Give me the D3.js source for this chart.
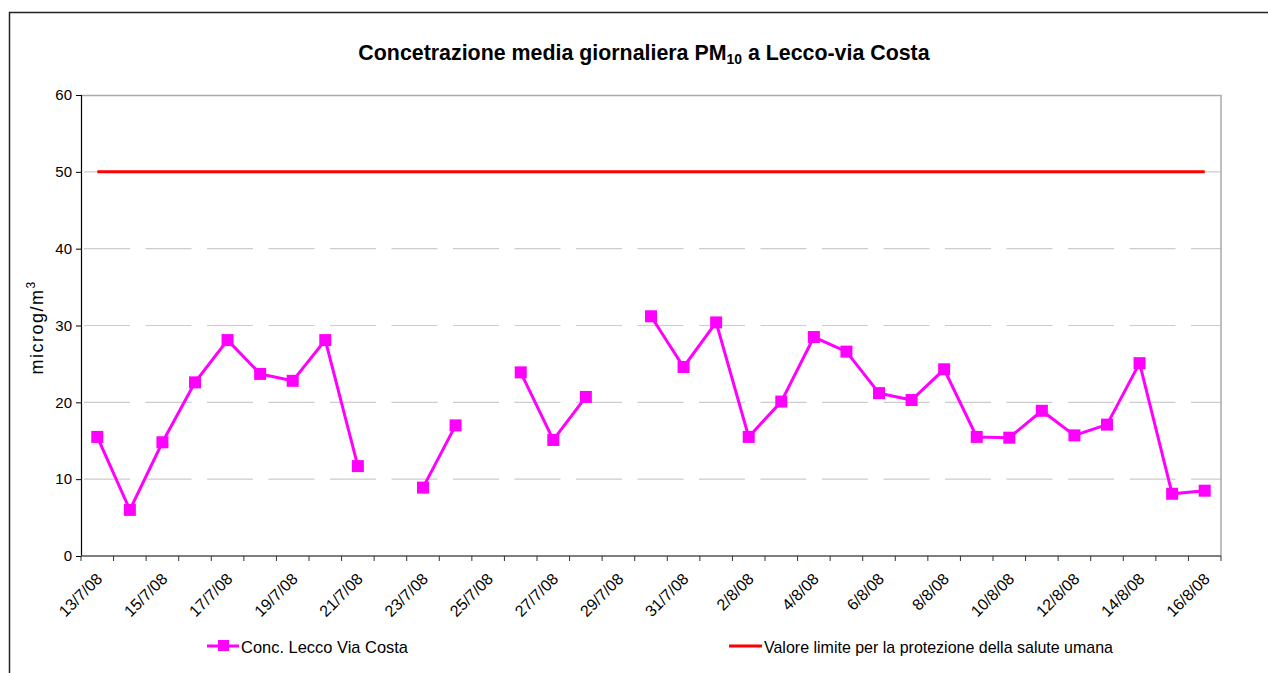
<!DOCTYPE html>
<html>
<head>
<meta charset="utf-8">
<script src="https://cdn.jsdelivr.net/npm/d3@7"></script>
<style>
  body { margin: 0; background: #fff; }
  text { font-family: "Liberation Sans", Arial, sans-serif; }
</style>
</head>
<body>
<div id="chart"></div>
<script>
// categories (days) and daily PM10 means, null = no measurement
var days = ["13/7/08","14/7/08","15/7/08","16/7/08","17/7/08","18/7/08","19/7/08","20/7/08","21/7/08","22/7/08",
  "23/7/08","24/7/08","25/7/08","26/7/08","27/7/08","28/7/08","29/7/08","30/7/08","31/7/08",
  "1/8/08","2/8/08","3/8/08","4/8/08","5/8/08","6/8/08","7/8/08","8/8/08","9/8/08","10/8/08",
  "11/8/08","12/8/08","13/8/08","14/8/08","15/8/08","16/8/08"];
var pm10 = [15.5, 6.0, 14.8, 22.6, 28.1, 23.7, 22.8, 28.1, 11.7, null,
  8.9, 17.0, null, 23.9, 15.1, 20.7, null, 31.2, 24.6,
  30.4, 15.5, 20.1, 28.5, 26.6, 21.2, 20.3, 24.3, 15.5, 15.4,
  18.9, 15.7, 17.1, 25.1, 8.1, 8.5];
var limitValue = 50;
var yTicks = [0, 10, 20, 30, 40, 50, 60];
var seriesNames = ["Conc. Lecco Via Costa", "Valore limite per la protezione della salute umana"];

var svgWidth = 1268;
var svgHeight = 673;
var margin = { top: 95, right: 47, bottom: 117, left: 81 };
var width = svgWidth - margin.left - margin.right;
var height = svgHeight - margin.top - margin.bottom;

var svg = d3.select("#chart")
  .append("svg")
  .attr("width", svgWidth)
  .attr("height", svgHeight);

// outer frame
svg.append("rect")
  .attr("x", 9.5).attr("y", 12.5)
  .attr("width", 1300).attr("height", 700)
  .attr("fill", "none")
  .attr("stroke", "#222")
  .attr("stroke-width", 1.5);

var chartGroup = svg.append("g")
  .attr("transform", `translate(${margin.left}, ${margin.top})`);

var x = d3.scaleBand()
  .domain(days)
  .range([0, width]);

var y = d3.scaleLinear()
  .domain([0, 60])
  .range([height, 0]);

var cx = d => x(d) + x.bandwidth() / 2;

// gridlines
chartGroup.append("g")
  .selectAll("line")
  .data(yTicks.filter(t => t > 0 && t < 60))
  .enter()
  .append("line")
  .attr("x1", 0).attr("x2", width)
  .attr("y1", d => y(d)).attr("y2", d => y(d))
  .attr("stroke", "#cccccc")
  .attr("stroke-width", 1.2)
  .attr("stroke-dasharray", "46,15.5")
  .attr("stroke-dashoffset", -3);

// plot area border (top + right)
chartGroup.append("path")
  .attr("d", `M0,0.5H${width}V${height}`)
  .attr("fill", "none")
  .attr("stroke", "#aaaaaa")
  .attr("stroke-width", 1.5);

// y axis
var leftAxis = d3.axisLeft(y).tickValues(yTicks).tickSize(5).tickPadding(4);
var yAxisG = chartGroup.append("g").call(leftAxis);
yAxisG.select(".domain").attr("stroke", "#000").attr("stroke-width", 1.2);
yAxisG.selectAll(".tick line").attr("stroke", "#000");
yAxisG.selectAll("text").attr("font-size", 15).attr("fill", "#000")
  .attr("font-family", "Liberation Sans, Arial, sans-serif");

// x axis: ticks between categories
var xAxisG = chartGroup.append("g")
  .attr("transform", `translate(0, ${height})`);
xAxisG.append("line")
  .attr("x1", 0).attr("x2", width)
  .attr("stroke", "#555").attr("stroke-width", 1.5);
var edges = days.map(d => x(d)).concat([width]);
xAxisG.selectAll("line.tk")
  .data(edges)
  .enter()
  .append("line")
  .attr("class", "tk")
  .attr("x1", d => d).attr("x2", d => d)
  .attr("y1", 0).attr("y2", 5)
  .attr("stroke", "#333");
xAxisG.selectAll("text")
  .data(days.filter((d, i) => i % 2 === 0))
  .enter()
  .append("text")
  .attr("transform", d => `translate(${cx(d) + 6}, 24) rotate(-45)`)
  .attr("text-anchor", "end")
  .attr("font-size", 16)
  .attr("fill", "#000")
  .text(d => d);

// limit line
var limitLine = d3.line()
  .x(d => cx(d))
  .y(() => y(limitValue));
chartGroup.append("path")
  .datum([days[0], days[days.length - 1]])
  .attr("d", limitLine)
  .attr("stroke", "#ff0000")
  .attr("stroke-width", 3)
  .attr("fill", "none");

// PM10 series
var pts = days.map((d, i) => ({ day: d, v: pm10[i] }));
var line = d3.line()
  .defined(d => d.v !== null)
  .x(d => cx(d.day))
  .y(d => y(d.v));
chartGroup.append("path")
  .datum(pts)
  .attr("d", line)
  .attr("stroke", "#ff00ff")
  .attr("stroke-width", 3)
  .attr("fill", "none");

var ms = 12;
chartGroup.selectAll("rect.marker")
  .data(pts.filter(d => d.v !== null))
  .enter()
  .append("rect")
  .attr("class", "marker")
  .attr("x", d => cx(d.day) - ms / 2)
  .attr("y", d => y(d.v) - ms / 2)
  .attr("width", ms).attr("height", ms)
  .attr("fill", "#ff00ff");

// title (slightly condensed)
var title = svg.append("g")
  .attr("transform", "translate(644, 60) scale(0.93, 1)")
  .append("text")
  .attr("text-anchor", "middle")
  .attr("font-size", 23)
  .attr("font-weight", "bold")
  .attr("fill", "#000");
title.append("tspan").text("Concetrazione media giornaliera PM");
title.append("tspan").attr("font-size", 15).attr("dy", 4).text("10");
title.append("tspan").attr("dy", -4).text(" a Lecco-via Costa");

// y axis label
var yLabel = svg.append("text")
  .attr("transform", `translate(43, ${margin.top + height / 2 + 2}) rotate(-90)`)
  .attr("text-anchor", "middle")
  .attr("font-size", 18)
  .attr("letter-spacing", 1.5)
  .attr("fill", "#000");
yLabel.append("tspan").text("microg/m");
yLabel.append("tspan").attr("font-size", 12).attr("dy", -8).text("3");

// legend
var legend = svg.append("g").attr("transform", "translate(0, 646)");
legend.append("line")
  .attr("x1", 207).attr("x2", 239)
  .attr("stroke", "#ff00ff").attr("stroke-width", 3);
legend.append("rect")
  .attr("x", 218).attr("y", -6).attr("width", 11).attr("height", 11)
  .attr("fill", "#ff00ff");
legend.append("text")
  .attr("x", 241).attr("y", 7)
  .attr("font-size", 17)
  .attr("textLength", 167)
  .attr("lengthAdjust", "spacingAndGlyphs")
  .text(seriesNames[0]);
legend.append("line")
  .attr("x1", 729).attr("x2", 762)
  .attr("stroke", "#ff0000").attr("stroke-width", 3);
legend.append("text")
  .attr("x", 764).attr("y", 7)
  .attr("font-size", 17)
  .attr("textLength", 349)
  .attr("lengthAdjust", "spacingAndGlyphs")
  .text(seriesNames[1]);
</script>
</body>
</html>
